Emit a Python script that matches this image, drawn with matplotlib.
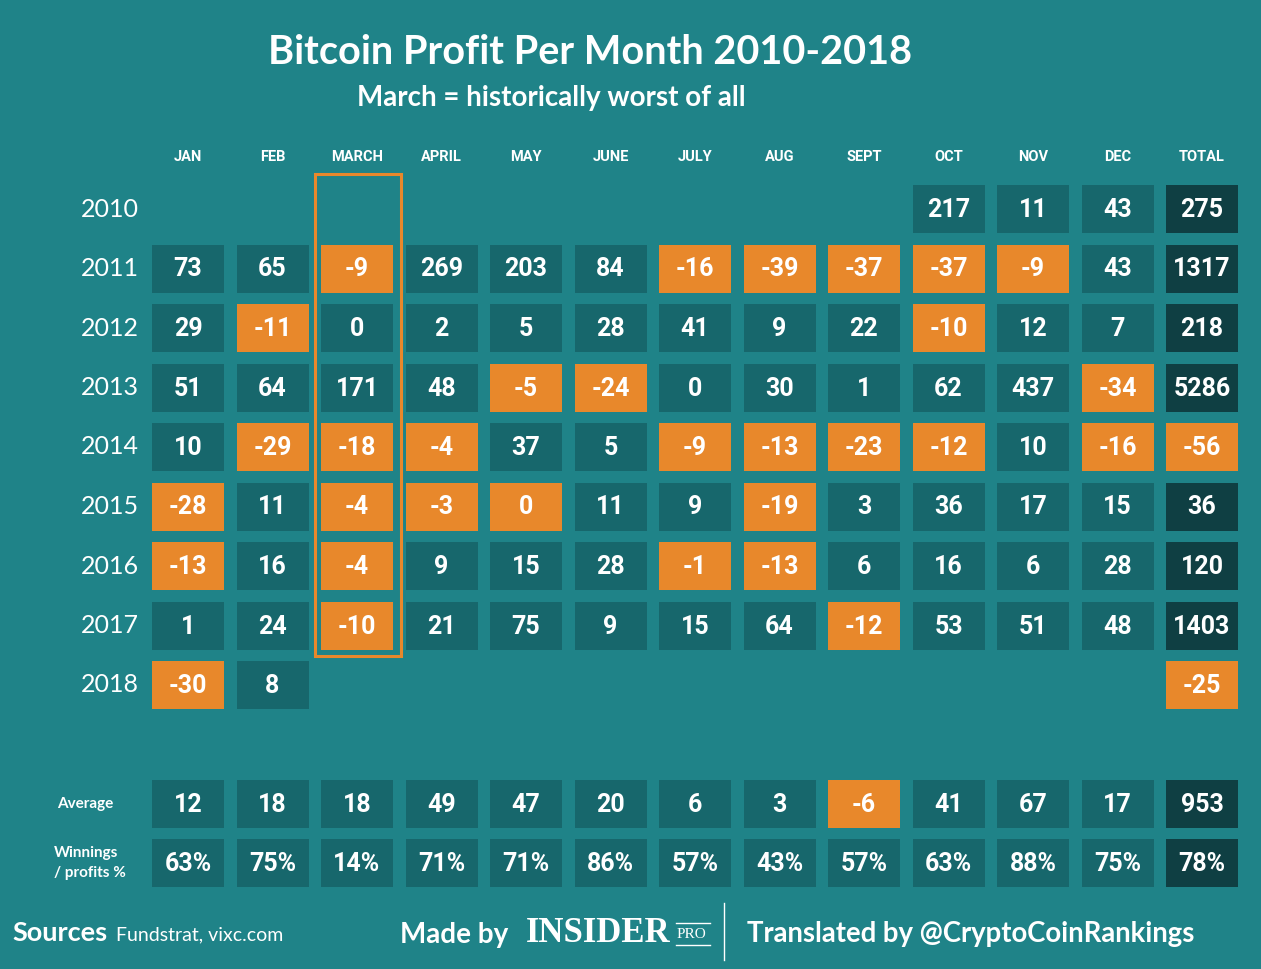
import numpy as np
import matplotlib.pyplot as plt
from matplotlib.patches import Rectangle

# data
months = ['JAN', 'FEB', 'MARCH', 'APRIL', 'MAY', 'JUNE', 'JULY', 'AUG', 'SEPT', 'OCT', 'NOV', 'DEC']
years = ['2010', '2011', '2012', '2013', '2014', '2015', '2016', '2017', '2018']
N = None
profit = [
    [N, N, N, N, N, N, N, N, N, 217, 11, 43],
    [73, 65, -9, 269, 203, 84, -16, -39, -37, -37, -9, 43],
    [29, -11, 0, 2, 5, 28, 41, 9, 22, -10, 12, 7],
    [51, 64, 171, 48, -5, -24, 0, 30, 1, 62, 437, -34],
    [10, -29, -18, -4, 37, 5, -9, -13, -23, -12, 10, -16],
    [-28, 11, -4, -3, 0, 11, 9, -19, 3, 36, 17, 15],
    [-13, 16, -4, 9, 15, 28, -1, -13, 6, 16, 6, 28],
    [1, 24, -10, 21, 75, 9, 15, 64, -12, 53, 51, 48],
    [-30, 8, N, N, N, N, N, N, N, N, N, N],
]
totals = [275, 1317, 218, 5286, -56, 36, 120, 1403, -25]
# cells shown orange although the value is 0 (year, month)
orange_zero = [('2015', 'MAY')]
average = [12, 18, 18, 49, 47, 20, 6, 3, -6, 41, 67, 17]
average_total = 953
winnings = [63, 75, 14, 71, 71, 86, 57, 43, 57, 63, 88, 75]
winnings_total = 78

BG = '#1f8388'
CELL = '#17676c'
TOT = '#0f3f43'
ORANGE = '#e8882b'
num_font = ['Roboto', 'DejaVu Sans']
txt_font = ['Lato', 'DejaVu Sans']
serif = ['Liberation Serif', 'DejaVu Serif']

fig = plt.figure(figsize=(12.61, 9.69), dpi=100, facecolor=BG)
ax = fig.add_axes([0, 0, 1, 1])
ax.set_xlim(0, 1261)
ax.set_ylim(969, 0)
ax.axis('off')
ax.set_facecolor(BG)

col_x = 188 + 84.5 * np.arange(13)
row_y = 209 + 59.5 * np.arange(len(years))
cw, ch = 72, 48


def cell(x, y, text, color, size=18):
    ax.add_patch(Rectangle((x - cw / 2, y - ch / 2), cw, ch, color=color, lw=0))
    ax.text(x, y + 1, text, color='white', ha='center', va='center',
            fontsize=size, fontweight='bold', family=num_font)


ax.text(590, 52, 'Bitcoin Profit Per Month 2010-2018', color='white', ha='center', va='center',
        fontsize=28.5, fontweight='bold', family=txt_font)
ax.text(551, 98, 'March = historically worst of all', color='white', ha='center', va='center',
        fontsize=20, fontweight='bold', family=txt_font)

for j, m in enumerate(months + ['TOTAL']):
    ax.text(col_x[j], 157, m, color='white', ha='center', va='center',
            fontsize=10.5, fontweight='bold', family=num_font)

for i, yr in enumerate(years):
    ax.text(110, row_y[i], yr, color='white', ha='center', va='center', fontsize=18, family=txt_font)
    for j, m in enumerate(months):
        v = profit[i][j]
        if v is None:
            continue
        neg = v < 0 or (yr, m) in orange_zero
        cell(col_x[j], row_y[i], str(v), ORANGE if neg else CELL)
    cell(col_x[12], row_y[i], str(totals[i]), ORANGE if totals[i] < 0 else TOT)

# march highlight box
ax.add_patch(Rectangle((315, 174), 86, 482, fill=False, ec=ORANGE, lw=2.2))

avg_y, win_y = 804, 863
ax.text(85, avg_y, 'Average', color='white', ha='center', va='center',
        fontsize=11, fontweight='bold', family=txt_font)
ax.text(54, win_y, 'Winnings\n/ profits %', color='white', ha='left', va='center',
        fontsize=11, fontweight='bold', family=txt_font, linespacing=1.5)
for j, v in enumerate(average):
    cell(col_x[j], avg_y, str(v), ORANGE if v < 0 else CELL)
cell(col_x[12], avg_y, str(average_total), TOT)
for j, v in enumerate(winnings):
    cell(col_x[j], win_y, f'{v}%', CELL)
cell(col_x[12], win_y, f'{winnings_total}%', TOT)

# footer
ax.text(12, 933, 'Sources', color='white', ha='left', va='center',
        fontsize=19.5, fontweight='bold', family=txt_font)
ax.text(116, 935, 'Fundstrat, vixc.com', color='white', ha='left', va='center',
        fontsize=14, family=txt_font)
ax.text(400, 935, 'Made by', color='white', ha='left', va='center',
        fontsize=20, fontweight='bold', family=txt_font)
ax.text(526, 934, 'INSIDER', color='white', ha='left', va='center',
        fontsize=25, fontweight='bold', family=serif)
ax.text(677, 934, 'PRO', color='white', ha='left', va='center',
        fontsize=11, family=serif)
ax.plot([676, 710], [923, 923], color='white', lw=1)
ax.plot([676, 710], [945, 945], color='white', lw=1)
ax.plot([724, 724], [903, 960], color='white', lw=1)
ax.text(747, 934, 'Translated by @CryptoCoinRankings', color='white', ha='left', va='center',
        fontsize=19.8, fontweight='bold', family=txt_font)

fig.savefig('out.png', dpi=100, facecolor=BG)
